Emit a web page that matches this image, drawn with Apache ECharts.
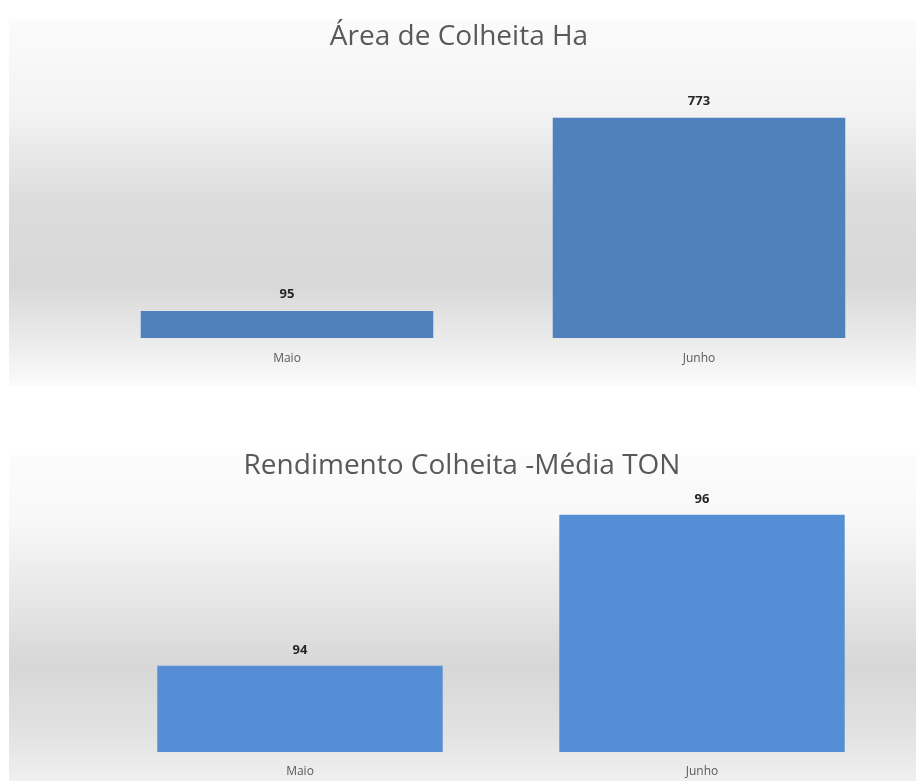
<!DOCTYPE html>
<html>
<head>
<meta charset="utf-8">
<script src="https://cdn.jsdelivr.net/npm/echarts@6/dist/echarts.min.js"></script>
<style>
html,body{margin:0;padding:0;background:#ffffff;}
#chart{width:916px;height:781px;}
</style>
</head>
<body>
<div id="chart"></div>
<script>
var categories = ['Maio', 'Junho'];
var areaTitle = 'Área de Colheita Ha';
var areaValues = [95, 773];
var rendTitle = 'Rendimento Colheita -Média TON';
var rendValues = [94, 96];

var chart = echarts.init(document.getElementById('chart'));
var fontFam = '"Open Sans", "Noto Sans", sans-serif';

function bgGrad(stops) {
  return new echarts.graphic.LinearGradient(0, 0, 0, 1, stops);
}

var option = {
  animation: false,
  backgroundColor: '#ffffff',
  graphic: [
    {
      type: 'rect', z: -10, silent: true,
      shape: { x: 9, y: 20, width: 907, height: 366 },
      style: { fill: bgGrad([
        { offset: 0, color: '#fbfbfb' },
        { offset: 0.25, color: '#f3f3f3' },
        { offset: 0.5, color: '#dcdcdc' },
        { offset: 0.72, color: '#d8d8d8' },
        { offset: 0.9, color: '#eeeeee' },
        { offset: 1, color: '#fbfbfb' }
      ]) }
    },
    {
      type: 'rect', z: -10, silent: true,
      shape: { x: 9, y: 455, width: 907, height: 326 },
      style: { fill: bgGrad([
        { offset: 0, color: '#fcfcfc' },
        { offset: 0.2, color: '#f8f8f8' },
        { offset: 0.45, color: '#e6e6e6' },
        { offset: 0.65, color: '#d7d7d7' },
        { offset: 0.85, color: '#e2e2e2' },
        { offset: 1, color: '#f0f0f0' }
      ]) }
    }
  ],
  title: [
    {
      text: areaTitle, left: 454, top: 18, textAlign: 'center',
      textStyle: { fontFamily: fontFam, fontSize: 28, fontWeight: 'normal', color: '#595959' }
    },
    {
      text: rendTitle, left: 457, top: 447, textAlign: 'center',
      textStyle: { fontFamily: fontFam, fontSize: 28, fontWeight: 'normal', color: '#595959' }
    }
  ],
  grid: [
    { left: 81, right: 11, top: 110, height: 228 },
    { left: 99, right: 13, top: 477, height: 275 }
  ],
  xAxis: [
    {
      gridIndex: 0, type: 'category', data: categories,
      axisLine: { show: false }, axisTick: { show: false },
      axisLabel: { margin: 15, fontFamily: fontFam, fontSize: 12, color: '#595959' }
    },
    {
      gridIndex: 1, type: 'category', data: categories,
      axisLine: { show: false }, axisTick: { show: false },
      axisLabel: { margin: 14, fontFamily: fontFam, fontSize: 12, color: '#595959' }
    }
  ],
  yAxis: [
    { gridIndex: 0, type: 'value', min: 0, max: 800, show: false, splitLine: { show: false } },
    { gridIndex: 1, type: 'value', min: 92.86, max: 96.5, show: false, splitLine: { show: false } }
  ],
  series: [
    {
      type: 'bar', xAxisIndex: 0, yAxisIndex: 0, data: areaValues,
      barWidth: '71%',
      itemStyle: { color: '#4f81bd' },
      label: { show: true, position: 'top', distance: 10, fontFamily: fontFam, fontSize: 13, fontWeight: 'bold', color: '#262626' }
    },
    {
      type: 'bar', xAxisIndex: 1, yAxisIndex: 1, data: rendValues,
      barWidth: '71%',
      itemStyle: { color: '#558ed5' },
      label: { show: true, position: 'top', distance: 9, fontFamily: fontFam, fontSize: 13, fontWeight: 'bold', color: '#262626' }
    }
  ]
};
chart.setOption(option);
</script>
</body>
</html>
